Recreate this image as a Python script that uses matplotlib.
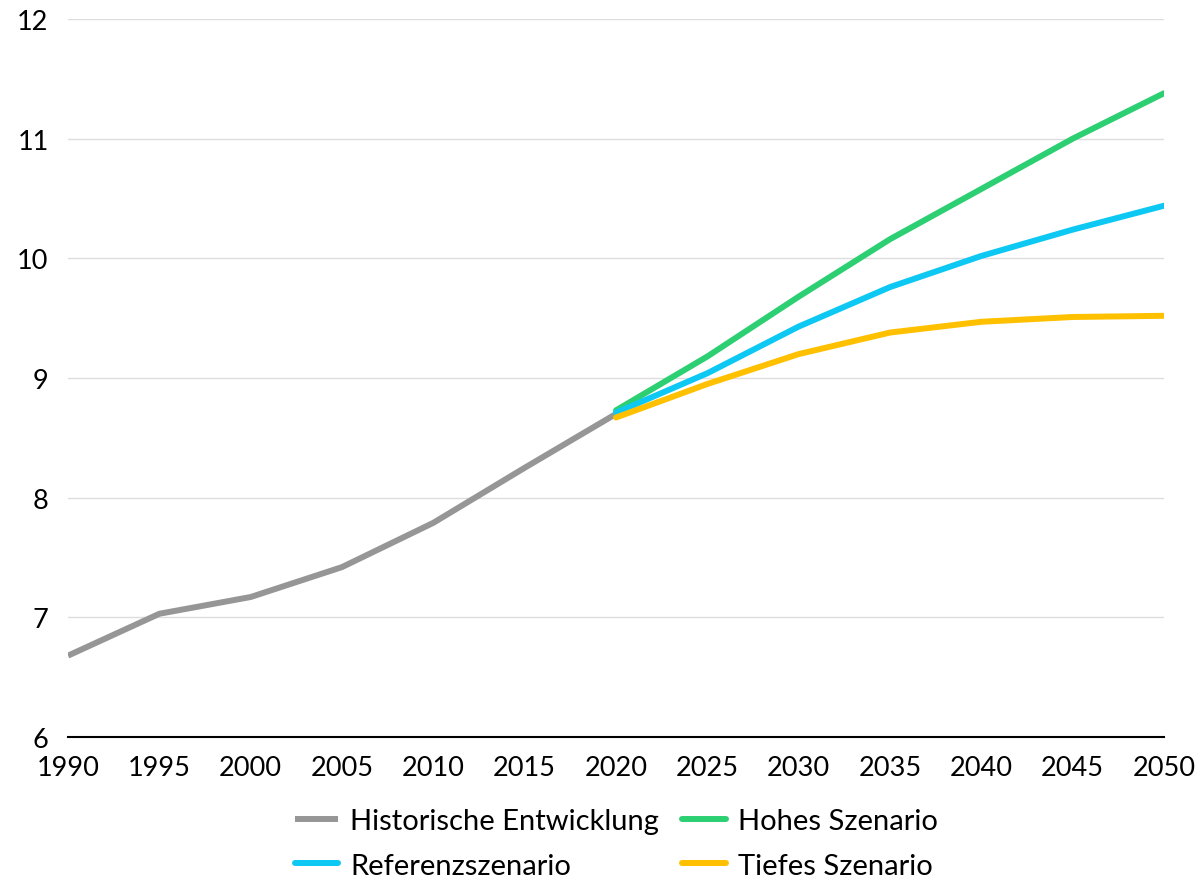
import numpy as np
import matplotlib.pyplot as plt

plt.rcParams['font.family'] = ['Lato', 'DejaVu Sans']

# data
years_hist = [1990, 1995, 2000, 2005, 2010, 2015, 2020]
hist = [6.68, 7.03, 7.17, 7.42, 7.79, 8.25, 8.70]

years_scen = [2020, 2025, 2030, 2035, 2040, 2045, 2050]
hohes = [8.73, 9.18, 9.68, 10.16, 10.58, 11.00, 11.38]
referenz = [8.71, 9.04, 9.43, 9.76, 10.02, 10.24, 10.44]
tiefes = [8.67, 8.95, 9.20, 9.38, 9.47, 9.51, 9.52]

x_ticks = list(range(1990, 2051, 5))
y_ticks = [6, 7, 8, 9, 10, 11, 12]

fig = plt.figure(figsize=(11.98, 8.79), dpi=100)
ax = fig.add_axes([0.0568, 0.1604, 0.9148, 0.8168])

lw = 4.3
l_hist, = ax.plot(years_hist, hist, color="#969696", lw=lw, solid_capstyle="butt",
                  label="Historische Entwicklung")
l_hoh, = ax.plot(years_scen, hohes, color="#2DCF73", lw=lw, solid_capstyle="round",
                 label="Hohes Szenario")
l_ref, = ax.plot(years_scen, referenz, color="#0CC8F3", lw=lw, solid_capstyle="round",
                 label="Referenzszenario")
l_tief, = ax.plot(years_scen, tiefes, color="#FFC000", lw=lw, solid_capstyle="round",
                  label="Tiefes Szenario")

ax.set_xlim(1990, 2050)
ax.set_ylim(6, 12)
ax.set_xticks(x_ticks)
ax.set_yticks(y_ticks)
ax.tick_params(axis="both", length=0, labelsize=19.5, colors="black")
ax.tick_params(axis="x", pad=13)
ax.tick_params(axis="y", pad=14)

ax.grid(axis="y", color="#DDDDDD", lw=1)
ax.set_axisbelow(True)
for s in ["top", "right", "left"]:
    ax.spines[s].set_visible(False)
ax.spines["bottom"].set_color("black")
ax.spines["bottom"].set_linewidth(1.5)
ax.spines["bottom"].set_zorder(1)

leg = ax.legend(handles=[l_hist, l_ref, l_hoh, l_tief], ncol=2,
                loc="upper center", bbox_to_anchor=(0.5, -0.063),
                frameon=False, fontsize=21, handlelength=1.5,
                handletextpad=0.4, columnspacing=0.8, labelspacing=0.62)

fig.savefig("out.png", dpi=100)
